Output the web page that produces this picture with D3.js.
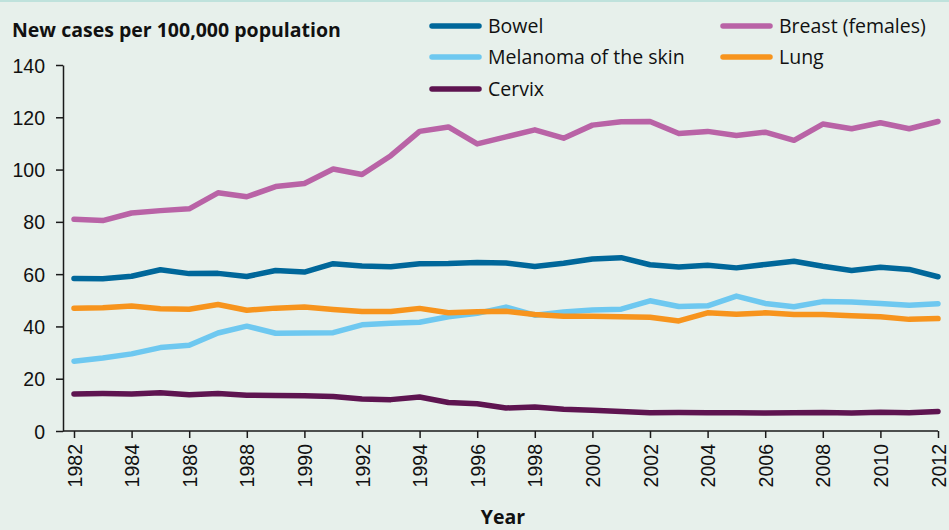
<!DOCTYPE html>
<html>
<head>
<meta charset="utf-8">
<script src="https://cdn.jsdelivr.net/npm/d3@7"></script>
<style>
  body { margin: 0; background: #e7f0eb; }
  svg { display: block; font-family: "Open Sans", "Noto Sans", sans-serif; }
</style>
</head>
<body>
<svg id="chart" width="949" height="530"></svg>
<script>
// years on the x axis
var years = d3.range(1982, 2013);
var yearTicks = d3.range(1982, 2013, 2);
var yTicks = [0, 20, 40, 60, 80, 100, 120, 140];

// new cases per 100,000 population
var bowel = [58.3, 58.2, 59.2, 61.7, 60.2, 60.3, 59.1, 61.4, 60.8, 64.0, 63.1, 62.8, 64.0, 64.1, 64.5, 64.3, 62.9, 64.2, 65.8, 66.3, 63.6, 62.7, 63.4, 62.4, 63.7, 64.9, 63.0, 61.4, 62.6, 61.8, 59.0];
var breast = [81.0, 80.5, 83.4, 84.3, 85.0, 91.1, 89.6, 93.5, 94.7, 100.2, 98.1, 105.3, 114.6, 116.3, 109.8, 112.5, 115.2, 112.0, 117.0, 118.3, 118.4, 113.8, 114.6, 113.0, 114.3, 111.2, 117.4, 115.6, 117.9, 115.6, 118.4];
var melanoma = [26.7, 27.9, 29.5, 31.9, 32.8, 37.5, 40.1, 37.4, 37.5, 37.6, 40.6, 41.2, 41.6, 43.7, 45.0, 47.4, 44.3, 45.5, 46.3, 46.6, 49.8, 47.6, 47.9, 51.6, 48.8, 47.5, 49.5, 49.3, 48.8, 48.1, 48.7];
var lung = [47.0, 47.1, 47.8, 46.8, 46.6, 48.4, 46.2, 47.0, 47.4, 46.5, 45.7, 45.7, 46.9, 45.2, 45.6, 45.8, 44.6, 43.9, 43.9, 43.7, 43.5, 42.1, 45.2, 44.7, 45.2, 44.6, 44.6, 44.1, 43.7, 42.7, 43.0];
var cervix = [14.2, 14.3, 14.2, 14.6, 13.9, 14.3, 13.7, 13.6, 13.5, 13.2, 12.2, 12.0, 13.0, 10.9, 10.4, 8.8, 9.2, 8.3, 7.9, 7.5, 7.0, 7.1, 7.0, 7.0, 6.9, 7.0, 7.1, 6.9, 7.2, 7.0, 7.5];

var seriesNames = ["Bowel", "Breast (females)", "Melanoma of the skin", "Lung", "Cervix"];
var seriesColors = ["#00679a", "#b963a6", "#6ec8f0", "#f7941d", "#5e1450"];

var series = [
  { name: seriesNames[0], values: bowel, color: seriesColors[0] },
  { name: seriesNames[1], values: breast, color: seriesColors[1] },
  { name: seriesNames[2], values: melanoma, color: seriesColors[2] },
  { name: seriesNames[3], values: lung, color: seriesColors[3] },
  { name: seriesNames[4], values: cervix, color: seriesColors[4] }
];

var svg = d3.select("#chart");

// thin teal rule along the top
svg.append("rect").attr("x", 0).attr("y", 0).attr("width", 949).attr("height", 2).attr("fill", "#bfe2dc");

var axisX = 63;
var x = d3.scaleLinear().domain([1982, 2012]).range([74, 938]);
var y = d3.scaleLinear().domain([0, 140]).range([431, 65]);

// y axis
var yAxis = d3.axisLeft(y).tickValues(yTicks).tickSize(7).tickSizeOuter(0).tickPadding(11);
var gy = svg.append("g").attr("transform", "translate(" + axisX + ",0)").call(yAxis);
gy.select(".domain").attr("stroke", "#1a1a1a").attr("stroke-width", 1.5);
gy.selectAll(".tick line").attr("stroke", "#1a1a1a").attr("stroke-width", 1.5);
gy.selectAll(".tick text").attr("font-size", 19.5).attr("fill", "#111").attr("dy", "0.36em");

// x axis
var xAxis = d3.axisBottom(x).tickValues(yearTicks).tickFormat(d3.format("d")).tickSize(7).tickSizeOuter(0);
var gx = svg.append("g").attr("transform", "translate(0," + y(0) + ")").call(xAxis);
gx.select(".domain").remove();
gx.append("line").attr("x1", axisX).attr("x2", x(2012)).attr("y1", 0).attr("y2", 0)
  .attr("stroke", "#1a1a1a").attr("stroke-width", 1.5);
gx.selectAll(".tick line").attr("stroke", "#1a1a1a").attr("stroke-width", 1.5);
gx.selectAll(".tick text")
  .attr("font-size", 19.5).attr("fill", "#111")
  .attr("transform", "rotate(-90)")
  .attr("text-anchor", "end")
  .attr("x", -13).attr("y", 0).attr("dy", "0.36em");

// lines
var line = d3.line()
  .x(function(d, i) { return x(years[i]); })
  .y(function(d) { return y(d); });

svg.selectAll(".series")
  .data(series)
  .enter()
  .append("path")
  .attr("class", "series")
  .attr("d", function(d) { return line(d.values); })
  .attr("fill", "none")
  .attr("stroke", function(d) { return d.color; })
  .attr("stroke-width", 5.5)
  .attr("stroke-linejoin", "round")
  .attr("stroke-linecap", "round");

// axis titles
svg.append("text").attr("x", 12).attr("y", 37)
  .attr("font-size", 19.5).attr("font-weight", "bold").attr("fill", "#111")
  .text("New cases per 100,000 population");
svg.append("text").attr("x", 503).attr("y", 524)
  .attr("text-anchor", "middle")
  .attr("font-size", 19.5).attr("font-weight", "bold").attr("fill", "#111")
  .text("Year");

// legend, two columns
var legendPos = [[432, 26], [723, 26], [432, 57], [723, 57], [432, 89]];
var legend = svg.selectAll(".legend")
  .data(series)
  .enter()
  .append("g")
  .attr("class", "legend")
  .attr("transform", function(d, i) { return "translate(" + legendPos[i][0] + "," + legendPos[i][1] + ")"; });
legend.append("line")
  .attr("x1", 0).attr("x2", 47).attr("y1", 0).attr("y2", 0)
  .attr("stroke", function(d) { return d.color; })
  .attr("stroke-width", 5.5).attr("stroke-linecap", "round");
legend.append("text")
  .attr("x", 56).attr("y", 0).attr("dy", "0.36em")
  .attr("font-size", 19.5).attr("fill", "#111")
  .text(function(d) { return d.name; });
</script>
</body>
</html>
